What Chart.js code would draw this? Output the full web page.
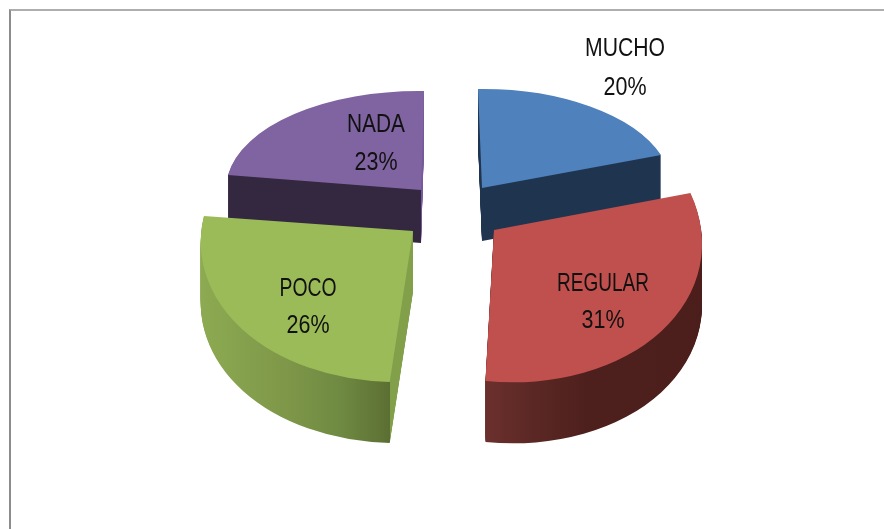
<!DOCTYPE html>
<html lang="es">
<head>
<meta charset="utf-8">
<title>Pie 3D</title>
<style>
  html, body { margin: 0; padding: 0; background: #fff; overflow: hidden; }
  #wrap { position: relative; width: 884px; height: 529px; }
  #frame { position: absolute; left: 9px; top: 9px; right: 0; bottom: 0;
           border-top: 2px solid #aeaeae; border-left: 2px solid #8c8c8c; }
  canvas { position: absolute; left: 0; top: 0; }
</style>
<script src="https://cdn.jsdelivr.net/npm/chart.js@4/dist/chart.umd.min.js"></script>
</head>
<body>
<div id="wrap">
  <div id="frame"></div>
  <canvas id="pie" width="884" height="529"></canvas>
</div>
<script>
/* Chart values */
const categories = ['MUCHO', 'REGULAR', 'POCO', 'NADA'];
const percents = [20, 31, 26, 23];

/* Slice colours (Office palette) */
const topColors = ['#4f81bd', '#c0504d', '#9bbb59', '#8064a2'];

/* Wall shading per slice: [screen x, colour] stops */
const wallStops = [
  [[470, '#1f344f'], [670, '#1f344f']],
  [[486, '#6b302d'], [530, '#5c2825'], [585, '#4e201d'], [710, '#4b1e1c']],
  [[199, '#8dab52'], [290, '#7d9648'], [340, '#6f8a42'], [389.5, '#5c6f33'], [390, '#82a04a'], [415, '#82a04a']],
  [[225, '#33283f'], [421, '#33283f'], [421.5, '#75599a'], [426, '#75599a']],
];

/* 3D look: apex on screen, ground-plane matrix [a, b, c, d] and wall depth per slice */
const apexes = [[482, 188], [494, 230], [413, 231], [421, 190]];
const planes = [
  [189.5, -2.5, 4, 99],
  [208, 10.5, 4.5, 152],
  [212, -3.9, -10, 151],
  [195, 2.6, -3, 99],
];
const depths = [53, 61, 61, 53];
const paintOrder = [0, 3, 2, 1];

/* Label placement: centre x, baselines of the two lines, squeezed widths */
const labelX = [625, 603, 308, 376];
const labelBase = [[56, 95], [291, 328], [296, 333], [132, 170]];
const nameWidths = [80, 92, 57, 58];
const percentWidth = 43;

/* Gradient in the slice's local space whose isolines are vertical on screen */
function wallGradient(ctx, i, arc) {
  const [ax] = apexes[i];
  const R = arc.outerRadius;
  const a = planes[i][0] / R;
  const c = planes[i][2] / R;
  const stops = wallStops[i];
  const first = stops[0][0];
  const last = stops[stops.length - 1][0];
  const norm = a * a + c * c;
  const at = (x) => [arc.x + (x - ax) * a / norm, arc.y + (x - ax) * c / norm];
  const grad = ctx.createLinearGradient(...at(first), ...at(last));
  stops.forEach(([x, color]) => grad.addColorStop((x - first) / (last - first), color));
  return grad;
}

/* Place one arc element on its tilted plane, dy pixels below the top face */
function drawOnPlane(ctx, i, arc, dy) {
  const [ax, ay] = apexes[i];
  const [a, b, c, d] = planes[i];
  const R = arc.outerRadius;
  ctx.save();
  ctx.transform(a / R, b / R, c / R, d / R, ax, ay + dy);
  ctx.translate(-arc.x, -arc.y);
  arc.draw(ctx);
  ctx.restore();
}

const pie3d = {
  id: 'pie3d',
  beforeDatasetsDraw(chart) {
    const { ctx } = chart;
    const arcs = chart.getDatasetMeta(0).data;
    paintOrder.forEach((i) => {
      const arc = arcs[i];
      const wall = Object.create(arc);
      wall.options = Object.assign({}, arc.options, { backgroundColor: wallGradient(ctx, i, arc) });
      for (let dy = depths[i]; dy > 0; dy--) drawOnPlane(ctx, i, wall, dy);
      drawOnPlane(ctx, i, arc, 0);
    });
    return false; // the flat pie is replaced by the layers above
  },
  afterDraw(chart) {
    const { ctx } = chart;
    ctx.save();
    ctx.fillStyle = '#111';
    ctx.font = '26px "Liberation Sans", sans-serif';
    ctx.textAlign = 'center';
    ctx.textBaseline = 'alphabetic';
    categories.forEach((name, i) => {
      ctx.fillText(name, labelX[i], labelBase[i][0], nameWidths[i]);
      ctx.fillText(percents[i] + '%', labelX[i], labelBase[i][1], percentWidth);
    });
    ctx.restore();
  },
};

new Chart(document.getElementById('pie'), {
  type: 'pie',
  data: {
    labels: categories,
    datasets: [{
      data: percents,
      backgroundColor: topColors,
      borderWidth: 0,
    }],
  },
  options: {
    responsive: false,
    animation: false,
    plugins: {
      legend: { display: false },
      tooltip: { enabled: false },
    },
  },
  plugins: [pie3d],
});
</script>
</body>
</html>
